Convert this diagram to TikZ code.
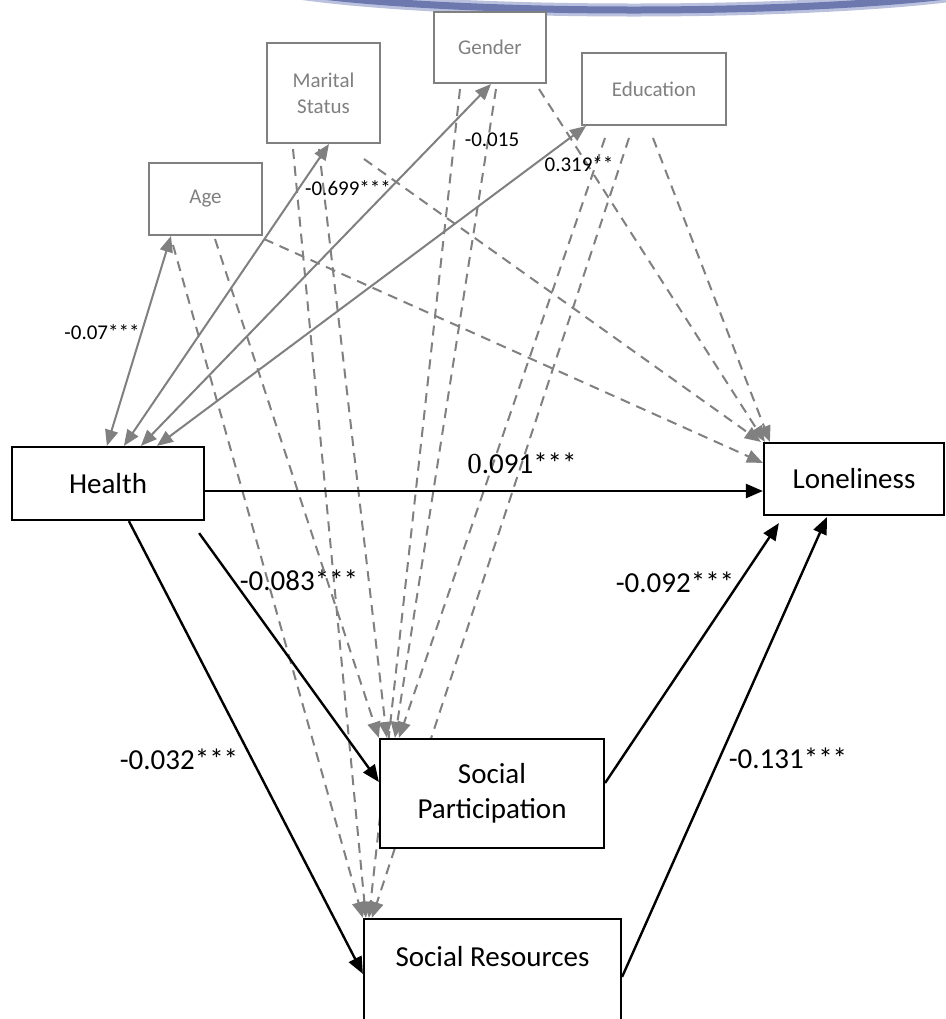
\documentclass[tikz,border=0pt]{standalone}
\usepackage{fontspec}
\setmainfont{Carlito}
\newfontfamily\timesfont{Liberation Serif}
\usetikzlibrary{arrows.meta}
\definecolor{covgray}{RGB}{128,128,128}
\definecolor{arcblue}{RGB}{108,120,174}
\definecolor{archalo}{RGB}{186,193,222}
\pgfdeclarelayer{bg}
\pgfsetlayers{bg,main}

\begin{document}
\begin{tikzpicture}[x=0.5pt,y=-0.5pt,
  covbox/.style={draw=covgray, line width=1pt, fill=white, text=covgray,
    font=\fontsize{10.5}{13}\selectfont, align=center, inner sep=0pt},
  mainbox/.style={draw=black, line width=1.1pt, fill=white,
    font=\fontsize{14.5}{17.5}\selectfont, align=center, inner sep=0pt},
  covlink/.style={draw=covgray, line width=1pt,
    {Triangle[length=8pt,width=6.5pt]}-{Triangle[length=8pt,width=6.5pt]}},
  covpath/.style={draw=covgray, line width=1pt, dash pattern=on 5pt off 3.5pt,
    -{Triangle[length=8pt,width=6.5pt]}},
  effect/.style={draw=black, line width=1.2pt, -{Triangle[length=8.5pt,width=7pt]}},
  coef/.style={font=\fontsize{14.5}{17}\selectfont, inner sep=0pt},
  smallcoef/.style={font=\fontsize{10.5}{12}\selectfont, inner sep=0pt},
]
\useasboundingbox (0,0) rectangle (946,1019);
\begin{pgfonlayer}{bg}
\fill[white] (0,0) rectangle (946,1019);
\end{pgfonlayer}
\clip (0,0) rectangle (946,1019);

% decorative arc along the top edge
\draw[archalo, line width=6.5pt] (634,-27.5) ellipse [x radius=200pt, y radius=18.75pt];
\draw[arcblue, line width=3.5pt] (634,-27.5) ellipse [x radius=200pt, y radius=18.75pt];

% covariates
\node[covbox, minimum width=56.5pt, minimum height=36pt] (age) at (205.5,199) {Age};
\node[covbox, minimum width=56.5pt, minimum height=50pt] (marital) at (323.5,93) {Marital\\Status};
\node[covbox, minimum width=56pt, minimum height=35.5pt] (gender) at (490,47.5) {Gender};
\node[covbox, minimum width=72pt, minimum height=36pt] (education) at (654,89) {Education};

% model variables
\node[mainbox, minimum width=96pt, minimum height=36.5pt] (health) at (108,483.5) {Health};
\node[mainbox, minimum width=90pt, minimum height=36pt] (lone) at (854,479) {Loneliness};
\node[mainbox, minimum width=112pt, minimum height=54.5pt] (sp) at (492,793.5) {Social\\Participation};
\node[mainbox, minimum width=128.5pt, minimum height=65pt] (sr) at (492.5,984) {};
\node[font=\fontsize{14.5}{17.5}\selectfont, inner sep=0pt] (srtext) at (492.5,957) {Social Resources};

\begin{pgfonlayer}{bg}
% covariate paths (dashed)
\draw[covpath] ([xshift=12.5pt,yshift=-4.5pt]age.south west) -- (sr.north west);
\draw[covpath] ([xshift=33.5pt,yshift=-1.5pt]age.south west) -- (sp.north west);
\draw[covpath] ([xshift=0.5pt,yshift=-1.5pt]age.south east) -- ([yshift=-10.5pt]lone.north west);

\draw[covpath] ([xshift=13.5pt,yshift=-2.5pt]marital.south west) -- ([xshift=1.5pt]sr.north west);
\draw[covpath] ([xshift=26.5pt,yshift=-2.5pt]marital.south west) -- ([xshift=4pt]sp.north west);
\draw[covpath] ([xshift=49pt,yshift=-7.5pt]marital.south west) -- ([xshift=-1pt]lone.north west);

\draw[covpath] ([xshift=13.5pt,yshift=-2.5pt]gender.south west) -- ([xshift=3pt]sr.north west);
\draw[covpath] ([xshift=31.5pt,yshift=-2.5pt]gender.south west) -- ([xshift=8pt]sp.north west);
\draw[covpath] ([xshift=53pt,yshift=-2.5pt]gender.south west) -- ([xshift=1pt]lone.north west);

\draw[covpath] ([xshift=12pt,yshift=-6pt]education.south west) -- ([xshift=10pt]sp.north west);
\draw[covpath] ([xshift=24pt,yshift=-6pt]education.south west) -- ([xshift=4.5pt]sr.north west);
\draw[covpath] ([xshift=36pt,yshift=-6pt]education.south west) -- ([xshift=3.5pt]lone.north west);

% covariances with health
\draw[covlink] ([xshift=11.5pt]age.south west) -- ([xshift=48pt]health.north west);
\draw[covlink] ([xshift=31.5pt]marital.south west) -- ([xshift=56.5pt]health.north west);
\draw[covlink] ([xshift=29pt]gender.south west) -- ([xshift=65pt]health.north west);
\draw[covlink] ([xshift=2.5pt]education.south west) -- ([xshift=73pt]health.north west);
\end{pgfonlayer}

% structural paths
\draw[effect] ([yshift=-3.75pt]health.east) -- ([yshift=-6pt]lone.west);
\draw[effect] ([xshift=-3pt,yshift=-6pt]health.south east) -- ([yshift=5.75pt]sp.west);
\draw[effect] ([xshift=59pt]health.south west) -- ([yshift=-28pt]sr.north west);
\draw[effect] ([yshift=5.25pt]sp.east) -- ([xshift=8pt,yshift=-3.5pt]lone.south west);
\draw[effect] ([yshift=-29.5pt]sr.north east) -- ([xshift=32pt,yshift=-0.5pt]lone.south west);

% coefficients
\node[coef] (c1) at (522,463) {{\timesfont 0}.091***};
\node[coef] (c2) at (299,580) {-0.083***};
\node[coef] (c3) at (675,582) {-0.092***};
\node[coef] (c4) at (788,758) {-0.131***};
\node[coef] (c5) at (179,759) {-0.032***};
\node[smallcoef] (c6) at (102,332) {-0.07***};
\node[smallcoef] (c7) at (348,188) {-0.699***};
\node[smallcoef] (c8) at (492,140) {-0.015};
\node[smallcoef] (c9) at (579,164) {0.319**};
\end{tikzpicture}
\end{document}
